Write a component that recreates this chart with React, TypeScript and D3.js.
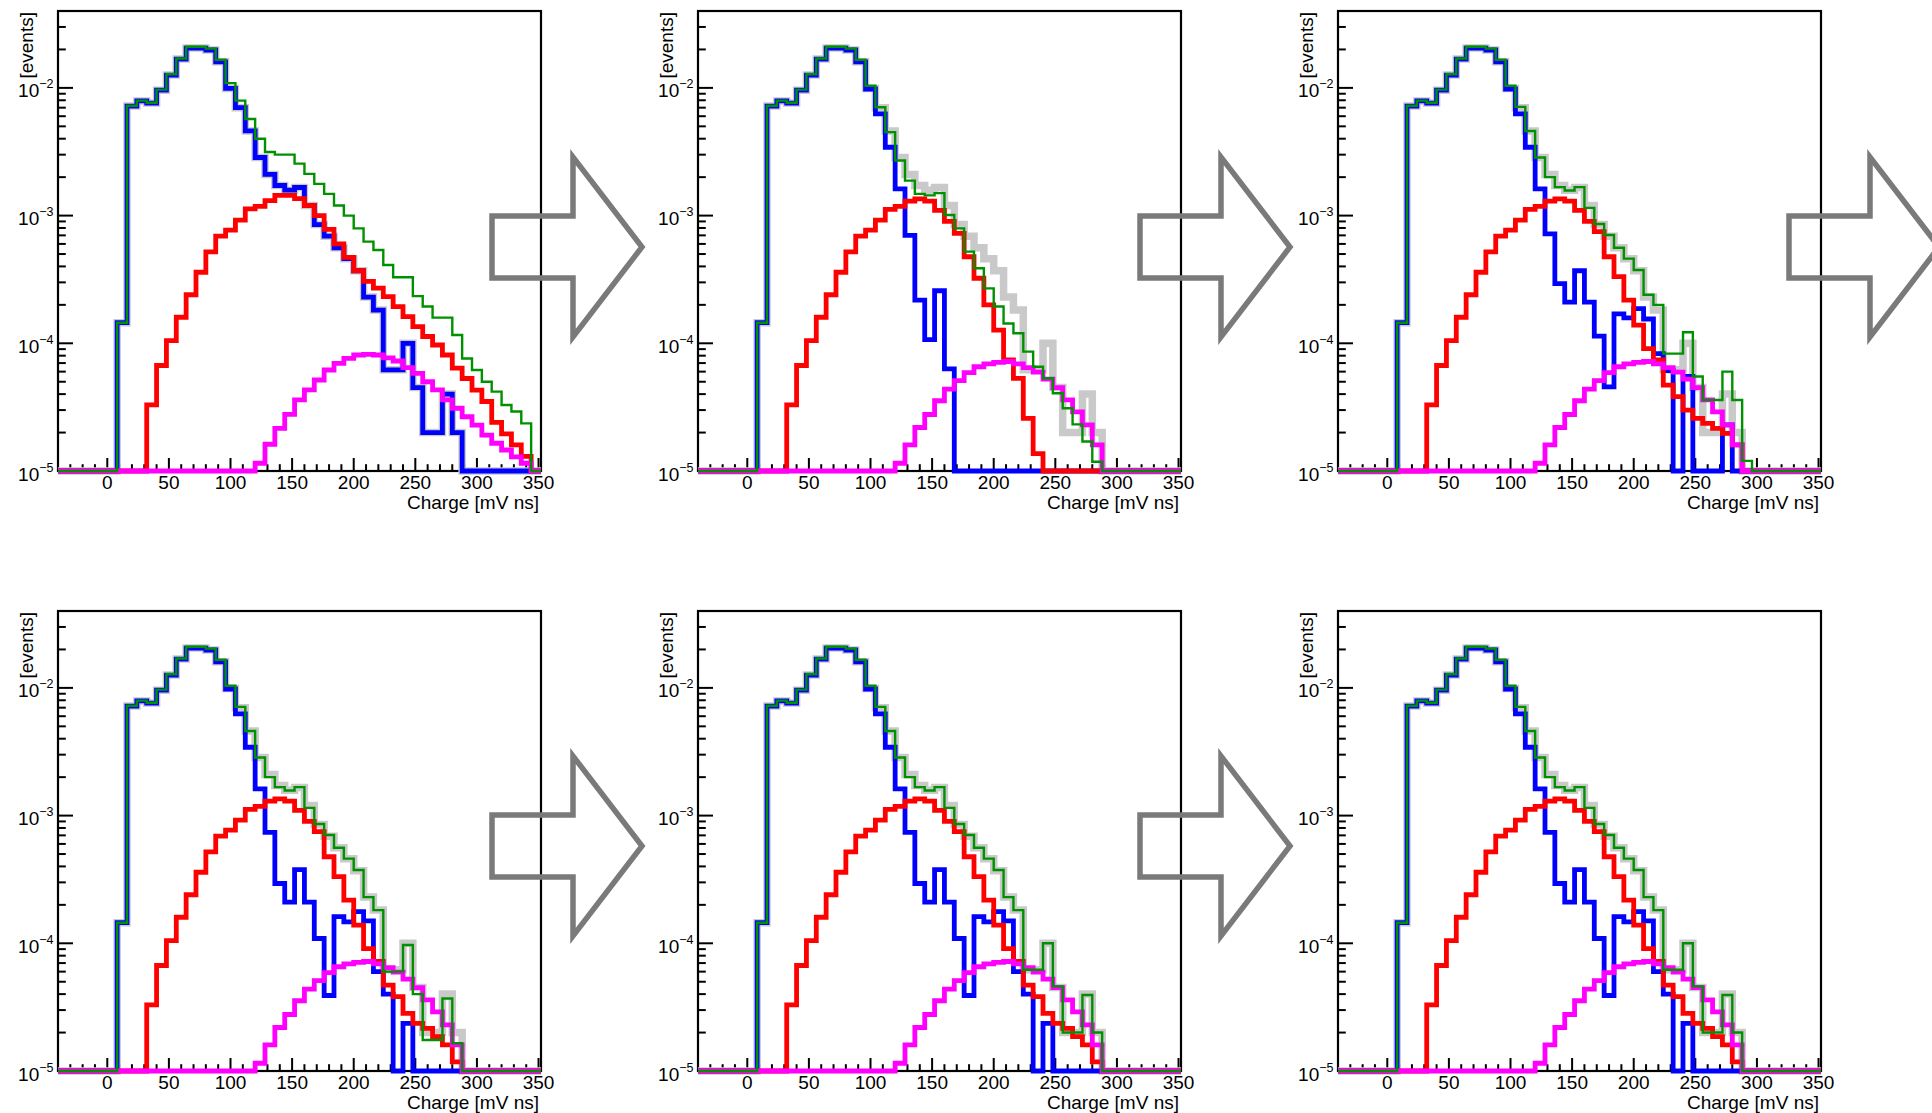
import React from 'react';
import * as d3 from 'd3';

// ---- histogram binning (Charge axis, mV ns) ----
const BIN_WIDTH = 8;
const X_MIN = -40;
const X_MAX = 352;
const FIRST_BIN_START = 8; // every series below starts at the [8,16) bin
const Y_MIN = 1e-5;
const Y_MAX = 0.04;

const xMajorTicks = [0, 50, 100, 150, 200, 250, 300, 350];
const xMinorTicks = d3.range(-30, 351, 10);
const yDecades = [1e-5, 1e-4, 1e-3, 1e-2];
const yExponents = ['\u22125', '\u22124', '\u22123', '\u22122'];
const xTitle = 'Charge [mV ns]';
const yTitle = '[events]';

// measured spectrum (grey), also the starting single-p.e. template (blue, stage 1)
const measuredCounts = [
  1.45e-4, 7.2e-3, 7.9e-3, 7.6e-3, 9.6e-3, 1.26e-2, 1.68e-2, 2.05e-2, 2.05e-2, 1.98e-2,
  1.6e-2, 9.9e-3, 7.0e-3, 4.6e-3, 2.85e-3, 2.1e-3, 1.72e-3, 1.58e-3, 1.66e-3, 1.2e-3,
  8.5e-4, 6.9e-4, 5.6e-4, 4.6e-4, 3.7e-4, 2.3e-4, 1.82e-4, 6.2e-5, 6.2e-5, 1.0e-4,
  4.5e-5, 2.0e-5, 2.0e-5, 4.0e-5, 2.0e-5,
];

// stage 1
const stage1Red = [
  0, 0, 0, 3.3e-5, 6.7e-5, 1.05e-4, 1.6e-4, 2.4e-4, 3.6e-4, 5.2e-4,
  6.9e-4, 7.7e-4, 9.2e-4, 1.13e-3, 1.18e-3, 1.31e-3, 1.44e-3, 1.44e-3, 1.36e-3, 1.2e-3,
  1.0e-3, 7.8e-4, 6.0e-4, 4.7e-4, 3.7e-4, 3.05e-4, 2.7e-4, 2.32e-4, 1.94e-4, 1.62e-4,
  1.35e-4, 1.13e-4, 9.7e-5, 8.1e-5, 6.4e-5, 5.3e-5, 4.3e-5, 3.5e-5, 2.4e-5, 1.95e-5,
  1.6e-5, 1.3e-5,
];
const stage1Magenta = [
  0, 0, 0, 0, 0, 0, 0, 0, 0, 0,
  0, 0, 0, 0, 1.15e-5, 1.62e-5, 2.16e-5, 2.78e-5, 3.6e-5, 4.31e-5,
  5.16e-5, 6.18e-5, 6.97e-5, 7.62e-5, 8.1e-5, 8.2e-5, 8.1e-5, 7.7e-5, 7.27e-5, 6.44e-5,
  5.82e-5, 5.0e-5, 4.31e-5, 3.6e-5, 3.1e-5, 2.66e-5, 2.29e-5, 1.91e-5, 1.65e-5, 1.46e-5,
  1.29e-5, 1.15e-5,
];
const stage1Green = [
  1.45e-4, 7.25e-3, 7.95e-3, 7.65e-3, 9.7e-3, 1.28e-2, 1.7e-2, 2.1e-2, 2.1e-2, 2.03e-2,
  1.66e-2, 1.09e-2, 7.95e-3, 5.7e-3, 4.0e-3, 3.15e-3, 3.0e-3, 3.0e-3, 2.55e-3, 2.12e-3,
  1.77e-3, 1.48e-3, 1.2e-3, 1.0e-3, 7.94e-4, 6.25e-4, 5.38e-4, 4.1e-4, 3.29e-4, 3.29e-4,
  2.34e-4, 1.94e-4, 1.59e-4, 1.59e-4, 1.16e-4, 7.6e-5, 6.18e-5, 5.0e-5, 4.18e-5, 3.29e-5,
  2.92e-5, 2.36e-5,
];

// stage 2
const stage2Blue = [
  1.45e-4, 7.2e-3, 7.9e-3, 7.6e-3, 9.6e-3, 1.26e-2, 1.68e-2, 2.05e-2, 2.05e-2, 1.98e-2,
  1.6e-2, 9.8e-3, 6.26e-3, 3.43e-3, 1.62e-3, 7.0e-4, 2.18e-4, 1.07e-4, 2.58e-4, 6.3e-5,
];
const stage2Red = [
  0, 0, 0, 3.3e-5, 6.7e-5, 1.05e-4, 1.6e-4, 2.4e-4, 3.6e-4, 5.2e-4,
  6.9e-4, 7.7e-4, 9.2e-4, 1.12e-3, 1.18e-3, 1.3e-3, 1.35e-3, 1.3e-3, 1.1e-3, 9.0e-4,
  7.26e-4, 4.76e-4, 3.23e-4, 2.0e-4, 1.27e-4, 7.4e-5, 5.32e-5, 2.58e-5, 1.37e-5,
];
const stage2Green = [
  1.45e-4, 7.25e-3, 7.95e-3, 7.65e-3, 9.7e-3, 1.28e-2, 1.7e-2, 2.1e-2, 2.1e-2, 2.03e-2,
  1.66e-2, 1.04e-2, 7.06e-3, 4.5e-3, 2.7e-3, 1.88e-3, 1.48e-3, 1.44e-3, 1.5e-3, 1.01e-3,
  7.94e-4, 5.22e-4, 3.87e-4, 2.69e-4, 1.94e-4, 1.43e-4, 1.2e-4, 8.6e-5, 6.56e-5, 5.32e-5,
  4.06e-5, 3.1e-5, 2.32e-5, 1.7e-5, 1.18e-5,
];

// magenta component, stages 2 to 6
const lateMagenta = [
  0, 0, 0, 0, 0, 0, 0, 0, 0, 0,
  0, 0, 0, 0, 1.15e-5, 1.6e-5, 2.19e-5, 2.77e-5, 3.55e-5, 4.37e-5,
  5.1e-5, 5.9e-5, 6.55e-5, 6.9e-5, 7.1e-5, 7.2e-5, 6.9e-5, 6.45e-5, 5.95e-5, 5.25e-5,
  4.5e-5, 3.6e-5, 2.9e-5, 2.3e-5, 1.6e-5,
];

// stage 3
const stage3Blue = [
  1.45e-4, 7.2e-3, 7.9e-3, 7.6e-3, 9.6e-3, 1.26e-2, 1.68e-2, 2.05e-2, 2.05e-2, 1.98e-2,
  1.6e-2, 9.8e-3, 6.26e-3, 3.43e-3, 1.62e-3, 7.2e-4, 2.93e-4, 2.1e-4, 3.7e-4, 2.1e-4,
  1.14e-4, 4.56e-5, 1.7e-4, 1.58e-4, 1.87e-4, 1.55e-4, 8.3e-5, 6.1e-5, 0, 5.5e-5,
  0, 0, 0, 2.3e-5,
];
const stage3Red = [
  0, 0, 0, 3.3e-5, 6.7e-5, 1.05e-4, 1.6e-4, 2.4e-4, 3.6e-4, 5.2e-4,
  6.9e-4, 7.7e-4, 9.2e-4, 1.12e-3, 1.18e-3, 1.3e-3, 1.35e-3, 1.3e-3, 1.1e-3, 9.0e-4,
  7.5e-4, 4.76e-4, 3.33e-4, 2.18e-4, 1.39e-4, 9.1e-5, 7.4e-5, 4.7e-5, 3.82e-5, 3.0e-5,
  2.58e-5, 2.36e-5, 2.16e-5, 1.97e-5, 1.6e-5,
];
const stage3Green = [
  1.45e-4, 7.25e-3, 7.95e-3, 7.65e-3, 9.7e-3, 1.28e-2, 1.7e-2, 2.1e-2, 2.1e-2, 2.03e-2,
  1.66e-2, 1.04e-2, 7.1e-3, 4.6e-3, 2.85e-3, 2.0e-3, 1.67e-3, 1.57e-3, 1.67e-3, 1.15e-3,
  8.6e-4, 7.05e-4, 5.6e-4, 4.6e-4, 3.75e-4, 2.4e-4, 2.0e-4, 8.3e-5, 8.3e-5, 1.22e-4,
  5.5e-5, 3.6e-5, 3.6e-5, 6.0e-5, 3.6e-5, 1.2e-5,
];

// stages 4 to 6
const stage4Blue = [
  1.45e-4, 7.2e-3, 7.9e-3, 7.6e-3, 9.6e-3, 1.26e-2, 1.68e-2, 2.05e-2, 2.05e-2, 1.98e-2,
  1.6e-2, 9.8e-3, 6.26e-3, 3.43e-3, 1.62e-3, 7.4e-4, 2.94e-4, 2.1e-4, 3.77e-4, 2.1e-4,
  1.09e-4, 3.9e-5, 1.62e-4, 1.47e-4, 1.77e-4, 1.5e-4, 6.0e-5, 4.0e-5, 0, 2.36e-5,
];
const stage4Red = [
  0, 0, 0, 3.3e-5, 6.7e-5, 1.05e-4, 1.6e-4, 2.4e-4, 3.6e-4, 5.2e-4,
  6.9e-4, 7.7e-4, 9.2e-4, 1.12e-3, 1.18e-3, 1.3e-3, 1.35e-3, 1.3e-3, 1.1e-3, 9.0e-4,
  7.5e-4, 4.76e-4, 3.33e-4, 2.18e-4, 1.39e-4, 9.1e-5, 7.2e-5, 4.7e-5, 3.82e-5, 2.83e-5,
  2.36e-5, 2.16e-5, 1.86e-5, 1.6e-5, 1.18e-5,
];
const stage4Green = [
  1.45e-4, 7.25e-3, 7.95e-3, 7.65e-3, 9.7e-3, 1.28e-2, 1.7e-2, 2.1e-2, 2.1e-2, 2.03e-2,
  1.66e-2, 1.04e-2, 7.1e-3, 4.6e-3, 2.85e-3, 2.0e-3, 1.67e-3, 1.57e-3, 1.67e-3, 1.15e-3,
  8.6e-4, 7.05e-4, 5.6e-4, 4.6e-4, 3.75e-4, 2.3e-4, 1.82e-4, 6.0e-5, 6.0e-5, 9.7e-5,
  4.0e-5, 1.75e-5, 1.75e-5, 3.7e-5, 1.65e-5,
];
const stage5Green = [
  1.45e-4, 7.25e-3, 7.95e-3, 7.65e-3, 9.7e-3, 1.28e-2, 1.7e-2, 2.1e-2, 2.1e-2, 2.03e-2,
  1.66e-2, 1.04e-2, 7.1e-3, 4.6e-3, 2.85e-3, 2.0e-3, 1.67e-3, 1.57e-3, 1.67e-3, 1.15e-3,
  8.6e-4, 7.05e-4, 5.6e-4, 4.6e-4, 3.75e-4, 2.3e-4, 1.82e-4, 6.2e-5, 6.2e-5, 1.0e-4,
  4.6e-5, 2.0e-5, 2.0e-5, 3.94e-5, 2.0e-5,
];

const stages = [
  { col: 0, row: 0, blue: measuredCounts, red: stage1Red, magenta: stage1Magenta, green: stage1Green },
  { col: 1, row: 0, blue: stage2Blue, red: stage2Red, magenta: lateMagenta, green: stage2Green },
  { col: 2, row: 0, blue: stage3Blue, red: stage3Red, magenta: lateMagenta, green: stage3Green },
  { col: 0, row: 1, blue: stage4Blue, red: stage4Red, magenta: lateMagenta, green: stage4Green },
  { col: 1, row: 1, blue: stage4Blue, red: stage4Red, magenta: lateMagenta, green: stage5Green },
  { col: 2, row: 1, blue: stage4Blue, red: stage4Red, magenta: lateMagenta, green: stage5Green },
];

// arrows following each stage except the last
const arrowSlots = [
  { col: 0, row: 0 }, { col: 1, row: 0 }, { col: 2, row: 0 },
  { col: 0, row: 1 }, { col: 1, row: 1 },
];

// ---- layout ----
const WIDTH = 1932;
const HEIGHT = 1113;
const PANEL_W = 483;
const PANEL_H = 460;
const COL_X = [58, 698, 1338];
const ROW_Y = [11, 611];
const ARROW_X = [492, 1140, 1789];
const ARROW_CY = [247, 846];
const FONT = '"Liberation Sans", Arial, Helvetica, sans-serif';

const COLORS = {
  data: '#c9c9c9',
  blue: '#0000ff',
  red: '#ff0000',
  magenta: '#ff00ff',
  green: '#009100',
  arrow: '#7a7a7a',
};

const binEdges = d3.range(X_MIN, X_MAX + BIN_WIDTH / 2, BIN_WIDTH);
const leadingEmpty = Math.round((FIRST_BIN_START - X_MIN) / BIN_WIDTH);

function toBins(values: number[]): number[] {
  const n = binEdges.length - 1;
  const out = new Array(n).fill(0);
  values.forEach((v, i) => {
    if (i + leadingEmpty < n) out[i + leadingEmpty] = v;
  });
  return out;
}

function Panel({ left, top, s }: { left: number; top: number; s: any }) {
  const x = d3.scaleLinear().domain([X_MIN, X_MAX]).range([left, left + PANEL_W]);
  const y = d3.scaleLog().domain([Y_MIN, Y_MAX]).range([top + PANEL_H, top]);
  const bottom = top + PANEL_H;

  const step = d3
    .line<[number, number]>()
    .x((d) => x(d[0]))
    .y((d) => y(Math.max(d[1], Y_MIN)))
    .curve(d3.curveStepAfter);

  const histPath = (values: number[]) => {
    const bins = toBins(values);
    const pts: [number, number][] = bins.map((v, i) => [binEdges[i], v]);
    pts.push([binEdges[binEdges.length - 1], bins[bins.length - 1]]);
    return step(pts) || '';
  };

  const yMinor: number[] = [];
  yDecades.forEach((d) => {
    for (let m = 2; m <= 9; m++) {
      const v = m * d;
      if (v < Y_MAX * 0.999) yMinor.push(v);
    }
  });

  const layers = [
    { key: 'data', values: measuredCounts, color: COLORS.data, w: 7.5 },
    { key: 'blue', values: s.blue, color: COLORS.blue, w: 4.8 },
    { key: 'red', values: s.red, color: COLORS.red, w: 4.8 },
    { key: 'magenta', values: s.magenta, color: COLORS.magenta, w: 4.8 },
    { key: 'green', values: s.green, color: COLORS.green, w: 2.4 },
  ];

  return (
    <g>
      <rect x={left} y={top} width={PANEL_W} height={PANEL_H} fill="none" stroke="#000" strokeWidth={2.2} />
      {xMinorTicks.map((t) => {
        const major = t % 50 === 0;
        return (
          <line key={'xt' + t} x1={x(t)} x2={x(t)} y1={bottom} y2={bottom - (major ? 13 : 6.8)} stroke="#000" strokeWidth={2} />
        );
      })}
      {yMinor.map((v) => (
        <line key={'ym' + v} x1={left} x2={left + 7.8} y1={y(v)} y2={y(v)} stroke="#000" strokeWidth={2} />
      ))}
      {yDecades.map((v) => (
        <line key={'yM' + v} x1={left} x2={left + 15} y1={y(v)} y2={y(v)} stroke="#000" strokeWidth={2} />
      ))}
      {layers.map((l) => (
        <path
          key={l.key}
          d={histPath(l.values)}
          fill="none"
          stroke={l.color}
          strokeWidth={l.w}
          strokeLinejoin="miter"
          strokeLinecap="butt"
        />
      ))}
      {xMajorTicks.map((t) => (
        <text key={'xl' + t} x={x(t)} y={bottom + 18} textAnchor="middle" fontSize={19} fontFamily={FONT} fill="#000">
          {t}
        </text>
      ))}
      {yDecades.map((v, i) => (
        <text key={'yl' + v} x={left - 4.5} y={y(v) + 9.5} textAnchor="end" fontFamily={FONT} fill="#000" fontSize={19}>
          <tspan>10</tspan>
          <tspan fontSize={12.5} dy={-9}>
            {yExponents[i]}
          </tspan>
        </text>
      ))}
      <text x={left + PANEL_W - 2} y={bottom + 38} textAnchor="end" fontSize={19} fontFamily={FONT} fill="#000">
        {xTitle}
      </text>
      <text
        transform={`translate(${left - 25},${top + 1}) rotate(-90)`}
        textAnchor="end"
        fontSize={19}
        fontFamily={FONT}
        fill="#000"
      >
        {yTitle}
      </text>
    </g>
  );
}

function Arrow({ ax, cy }: { ax: number; cy: number }) {
  const pts = [
    [ax, cy - 31],
    [ax + 81, cy - 31],
    [ax + 81, cy - 90],
    [ax + 150, cy],
    [ax + 81, cy + 90],
    [ax + 81, cy + 31],
    [ax, cy + 31],
  ];
  return (
    <polygon
      points={pts.map((p) => p.join(',')).join(' ')}
      fill="none"
      stroke={COLORS.arrow}
      strokeWidth={5.5}
      strokeLinejoin="miter"
    />
  );
}

export default function App() {
  return (
    <svg
      width={WIDTH}
      height={HEIGHT}
      viewBox={`0 0 ${WIDTH} ${HEIGHT}`}
      style={{ position: 'absolute', left: 0, top: 0, display: 'block', background: '#fff' }}
    >
      <rect x={0} y={0} width={WIDTH} height={HEIGHT} fill="#fff" />
      {stages.map((s, i) => (
        <Panel key={i} left={COL_X[s.col]} top={ROW_Y[s.row]} s={s} />
      ))}
      {arrowSlots.map((a, i) => (
        <Arrow key={'a' + i} ax={ARROW_X[a.col]} cy={ARROW_CY[a.row]} />
      ))}
    </svg>
  );
}
